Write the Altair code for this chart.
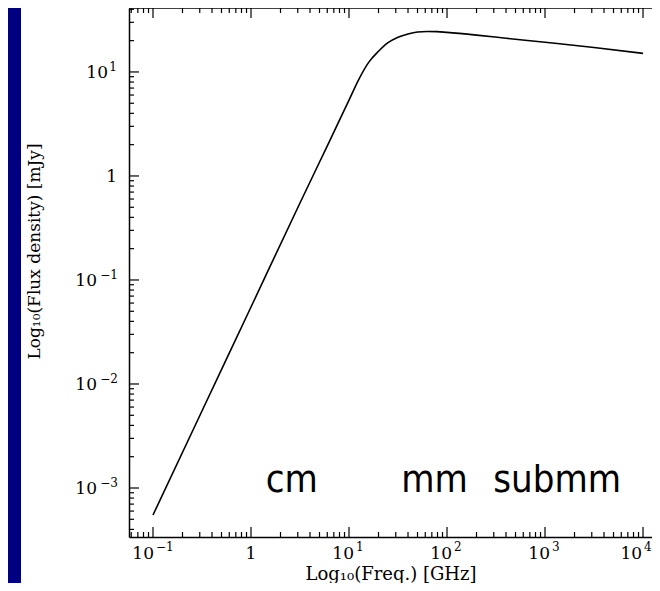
import altair as alt
import pandas as pd

# ---- data ----
freq_ghz = [0.1, 0.316, 1, 3.16, 6.3, 10, 12.6, 15.8, 20, 25, 31.6, 40, 50, 63, 79, 100, 200, 400, 1000, 3160, 10000]
flux_mjy = [5.5e-4, 5.5e-3, 0.055, 0.55, 2.14, 5.37, 8.5, 12.3, 15.8, 19.1, 21.6, 23.2, 24.2, 24.5, 24.4, 24.0, 22.6, 21.1, 19.3, 17.2, 15.1]

band_labels = ["cm", "mm", "submm"]
band_freq = [2.6, 74.5, 1330]
band_flux = [9.2e-4, 9.2e-4, 9.2e-4]

# tick label parts: base "10" plus exponent (or plain "1")
x_neg_vals, x_neg_exp = [0.1], ["−1"]
x_pos_vals, x_pos_exp = [10, 100, 1000], ["1", "2", "3"]
x_edge_vals, x_edge_exp = [10000], ["4"]
x_one_vals = [1]
y_neg_vals, y_neg_exp = [0.1, 0.01, 0.001], ["−1", "−2", "−3"]
y_pos_vals, y_pos_exp = [10], ["1"]
y_one_vals = [1]

x_major = [0.1, 1, 10, 100, 1000, 10000]
y_major = [0.001, 0.01, 0.1, 1, 10]

x_domain = [0.0569, 12350]
y_domain = [3.38e-4, 41.2]

# minor tick positions (2..9 per decade) inside the domains
x_minor = [m * 10.0 ** e for e in range(-2, 5) for m in range(2, 10)]
x_minor = [v for v in x_minor if x_domain[0] <= v <= x_domain[1]]
y_minor = [m * 10.0 ** e for e in range(-4, 2) for m in range(2, 10)]
y_minor = [v for v in y_minor if y_domain[0] <= v <= y_domain[1]]

W, H = 523, 529
MAJ, MIN = 10, 5
serif = "DejaVu Serif"
BASE_FS, EXP_FS = 17, 12

xs = alt.Scale(type="log", domain=x_domain, nice=False)
ys = alt.Scale(type="log", domain=y_domain, nice=False)

df = pd.DataFrame({"freq": freq_ghz, "flux": flux_mjy})
df_txt = pd.DataFrame({"freq": band_freq, "flux": band_flux, "label": band_labels})
one = alt.Data(values=[{"a": 1}])

panel = alt.Chart(one).mark_rect(color="white").encode(
    x=alt.value(-108), x2=alt.value(W + 20), y=alt.value(-2), y2=alt.value(H + 60)
)

main = alt.Chart(df).mark_line(color="black", strokeWidth=1.6, interpolate="monotone").encode(
    x=alt.X("freq:Q", scale=xs, title="Log₁₀(Freq.) [GHz]",
            axis=alt.Axis(orient="bottom", labels=False, ticks=False, domain=True,
                          domainColor="black", domainWidth=1.5, grid=False,
                          titleFont=serif, titleFontSize=18, titleFontWeight="normal", titleColor="black",
                          titleY=42, titleBaseline="alphabetic", zindex=2)),
    y=alt.Y("flux:Q", scale=ys, title="Log₁₀(Flux density) [mJy]",
            axis=alt.Axis(orient="left", labels=False, ticks=False, domain=True,
                          domainColor="black", domainWidth=1.5, grid=False,
                          titleFont=serif, titleFontSize=17, titleFontWeight="normal", titleColor="black",
                          titleX=-95, titleY=243, titleAngle=-90, titleAlign="center", titleBaseline="middle",
                          zindex=2)),
)

frame = alt.Chart(one).mark_rule(color="black", strokeWidth=1.5).encode(
    x=alt.value(0), x2=alt.value(W), y=alt.value(0))


def xticks(vals, length):
    d = pd.DataFrame({"v": vals})
    xe = alt.X("v:Q", scale=xs, axis=None)
    return [
        alt.Chart(d).mark_rule(color="black", strokeWidth=1.2).encode(x=xe, y=alt.value(H), y2=alt.value(H - length)),
        alt.Chart(d).mark_rule(color="black", strokeWidth=1.2).encode(x=xe, y=alt.value(0), y2=alt.value(length)),
    ]


def yticks(vals, length):
    d = pd.DataFrame({"v": vals})
    ye = alt.Y("v:Q", scale=ys, axis=None)
    return [
        alt.Chart(d).mark_rule(color="black", strokeWidth=1.2).encode(y=ye, x=alt.value(0), x2=alt.value(length)),
    ]


ticks = xticks(x_major, MAJ) + xticks(x_minor, MIN) + yticks(y_major, MAJ) + yticks(y_minor, MIN)


def xlab(vals, texts, size, ypix, align, dx):
    d = pd.DataFrame({"v": vals, "t": texts})
    return alt.Chart(d).mark_text(font=serif, fontSize=size, color="black", align=align,
                                  baseline="alphabetic", dx=dx).encode(
        x=alt.X("v:Q", scale=xs, axis=None), y=alt.value(ypix), text="t:N")


def ylab(vals, texts, size, xpix, dy):
    d = pd.DataFrame({"v": vals, "t": texts})
    return alt.Chart(d).mark_text(font=serif, fontSize=size, color="black", align="right",
                                  baseline="alphabetic", dy=dy).encode(
        y=alt.Y("v:Q", scale=ys, axis=None), x=alt.value(xpix), text="t:N")


LB, LE = H + 22, H + 14
labels = [
    xlab(x_neg_vals, ["10"] * len(x_neg_vals), BASE_FS, LB, "right", 1),
    xlab(x_neg_vals, x_neg_exp, EXP_FS, LE, "left", 3),
    xlab(x_pos_vals, ["10"] * len(x_pos_vals), BASE_FS, LB, "right", 5),
    xlab(x_pos_vals, x_pos_exp, EXP_FS, LE, "left", 7),
    xlab(x_edge_vals, ["10"] * len(x_edge_vals), BASE_FS, LB, "right", -1),
    xlab(x_edge_vals, x_edge_exp, EXP_FS, LE, "left", 1),
    xlab(x_one_vals, ["1"], BASE_FS, LB, "center", 0),
    ylab(y_neg_vals, ["10"] * len(y_neg_vals), BASE_FS, -32, 6),
    ylab(y_neg_vals, y_neg_exp, EXP_FS, -11, -1),
    ylab(y_pos_vals, ["10"] * len(y_pos_vals), BASE_FS, -21, 6),
    ylab(y_pos_vals, y_pos_exp, EXP_FS, -12, -1),
    ylab(y_one_vals, ["1"], BASE_FS, -12, 6),
]

text = alt.Chart(df_txt).mark_text(
    font="DejaVu Sans Condensed, DejaVu Sans", fontSize=38, color="black",
    align="center", baseline="alphabetic"
).encode(
    x=alt.X("freq:Q", scale=xs, axis=None),
    y=alt.Y("flux:Q", scale=ys, axis=None),
    text="label:N",
)

chart = alt.layer(panel, main, frame, *ticks, *labels, text).resolve_axis(
    x="independent", y="independent"
).properties(
    width=W, height=H, background="#000080",
    autosize=alt.AutoSizeParams(type="none"),
    padding={"left": 121, "top": 0, "right": 0, "bottom": 46},
).configure_view(stroke=None, fill="white")

chart.save("out.html", embed_options={"renderer": "svg", "actions": False})
